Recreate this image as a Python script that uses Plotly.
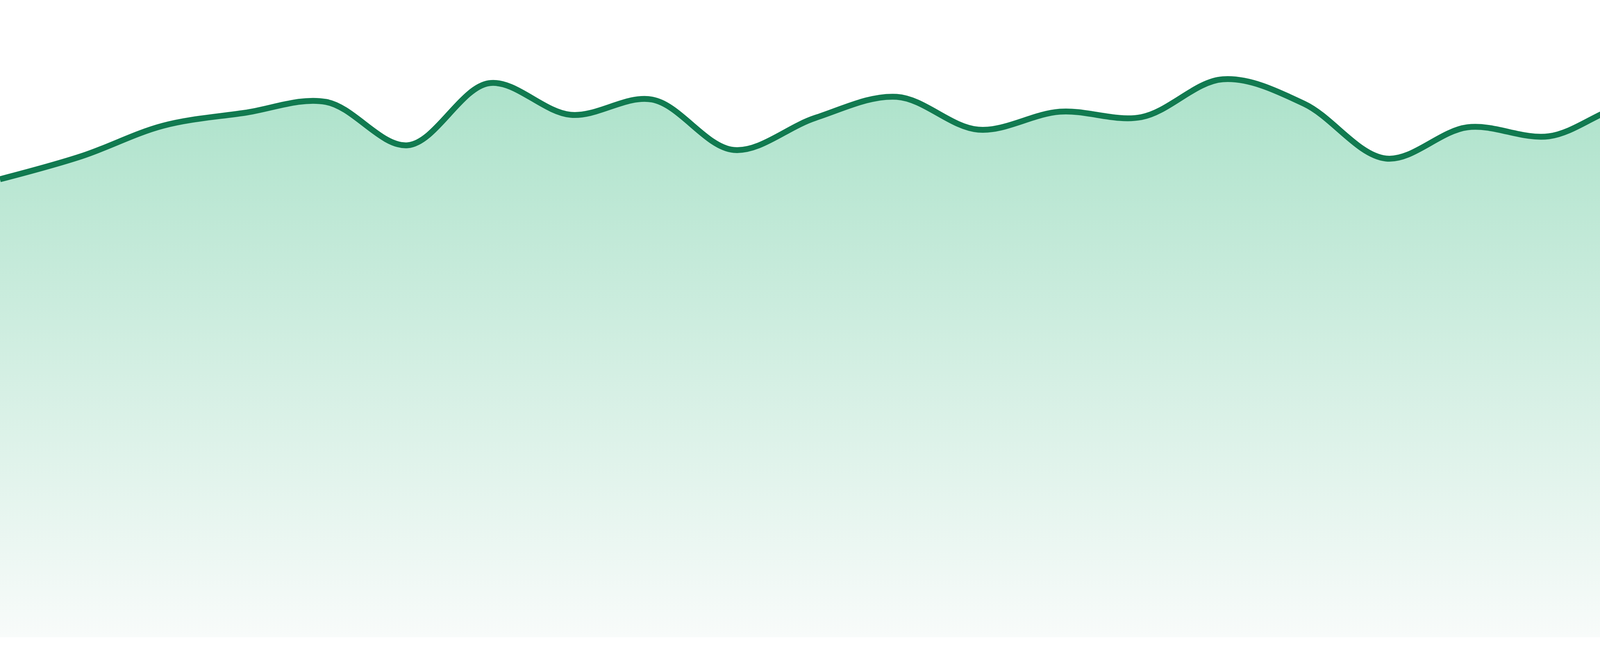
import plotly.graph_objects as go

# one reading per step, left to right
steps = list(range(24))
values = [117.3, 123.2, 131.0, 134.3, 137.1, 126.0, 141.9, 133.8,
          137.7, 124.8, 133.0, 138.4, 130.0, 134.6, 133.2, 142.9,
          136.6, 122.6, 130.6, 128.3, 136.4, 132.7, 140.2, 136.9]

line_col = '#117a50'
fill_top = 'rgb(172,226,202)'
fill_bottom = 'rgb(248,251,250)'

fig = go.Figure()
fig.add_trace(go.Scatter(
    x=steps, y=values,
    mode='lines',
    line=dict(color=line_col, width=15, shape='spline', smoothing=1),
    fill='tozeroy',
    fillgradient=dict(type='vertical',
                      colorscale=[[0, fill_bottom], [1, fill_top]],
                      start=0, stop=max(values)),
    hoverinfo='skip',
))

fig.update_layout(
    width=4800, height=1680,
    margin=dict(l=0, r=0, t=0, b=48),
    paper_bgcolor='white', plot_bgcolor='white',
    showlegend=False,
)
fig.update_xaxes(visible=False, range=[0, 23], fixedrange=True)
fig.update_yaxes(visible=False, range=[0, 163.2], fixedrange=True)

# page body has a default 8px margin, drop it so the plot sits flush
fig.write_html("out.html", config={'displayModeBar': False},
               post_script="document.body.style.margin='0';document.body.style.overflow='hidden';")
